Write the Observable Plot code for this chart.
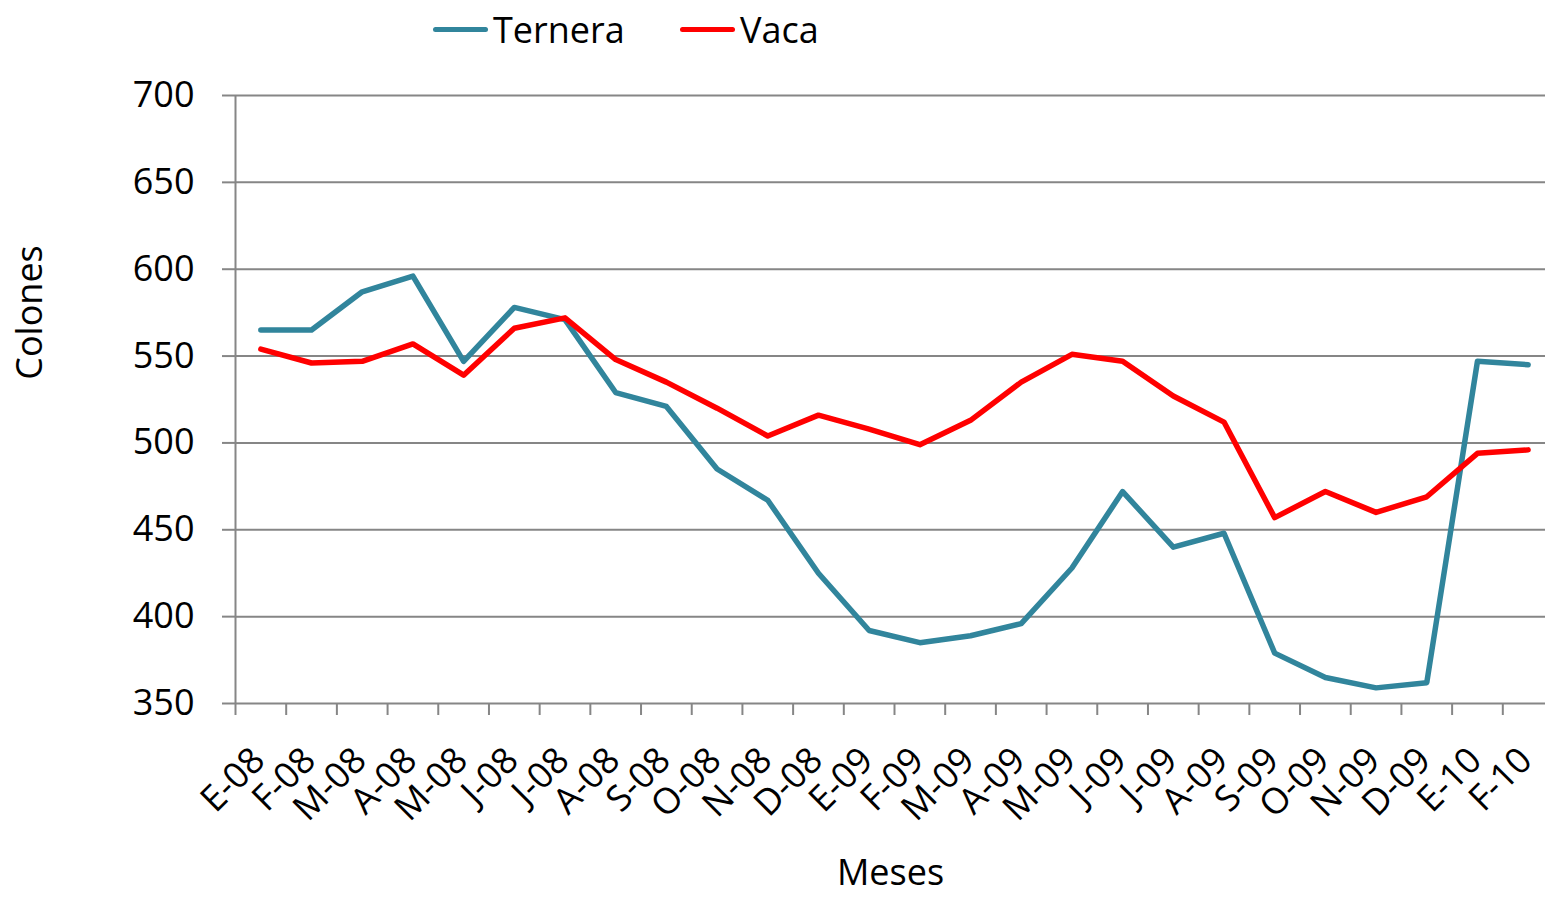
<!DOCTYPE html>
<html><head><meta charset="utf-8">
<script src="https://cdn.jsdelivr.net/npm/d3@7"></script>
<script src="https://cdn.jsdelivr.net/npm/@observablehq/plot@0.6"></script>
<style>
html,body{margin:0;padding:0;background:#fff;overflow:hidden;}
#legend{position:relative;height:60px;font-family:"Open Sans",sans-serif;font-size:36px;color:#000;}
.item{position:absolute;top:0;height:58px;display:flex;align-items:center;}
.sw{width:55px;height:5px;border-radius:3px;margin-right:5px;}
</style></head><body>
<div id="legend"></div><div id="chart"></div>
<script>
const months = ["E-08","F-08","M-08","A-08","M-08","J-08","J-08","A-08","S-08","O-08","N-08","D-08",
                "E-09","F-09","M-09","A-09","M-09","J-09","J-09","A-09","S-09","O-09","N-09","D-09",
                "E-10","F-10"];
const ternera = [565, 565, 587, 596, 547, 578, 571, 529, 521, 485, 467, 425,
                 392, 385, 389, 396, 428, 472, 440, 448, 379, 365, 359, 362,
                 547, 545];
const vaca = [554, 546, 547, 557, 539, 566, 572, 548, 535, 520, 504, 516,
              508, 499, 513, 535, 551, 547, 527, 512, 457, 472, 460, 469,
              494, 496];
const seriesNames = ["Ternera", "Vaca"];
const seriesColors = ["#31859C", "#FF0000"];
const yTicks = [350, 400, 450, 500, 550, 600, 650, 700];
const xTitle = "Meses";
const yTitle = "Colones";

const rows = months.flatMap((m, i) => [
  {i, serie: "Ternera", v: ternera[i]},
  {i, serie: "Vaca", v: vaca[i]}
]);

// legend
const legend = document.getElementById("legend");
const legendLeft = [433, 680];
seriesNames.forEach((s, k) => {
  const it = document.createElement("div");
  it.className = "item";
  it.style.left = legendLeft[k] + "px";
  const sw = document.createElement("div");
  sw.className = "sw";
  sw.style.background = seriesColors[k];
  const tx = document.createElement("span");
  tx.textContent = s;
  it.appendChild(sw); it.appendChild(tx);
  legend.appendChild(it);
});

const grid = "#868686";
const chart = Plot.plot({
  width: 1545, height: 837,
  marginLeft: 235, marginRight: 0, marginTop: 35, marginBottom: 194,
  style: {fontFamily: '"Open Sans", sans-serif', fontSize: "36px", color: "#000", background: "#fff", overflow: "visible"},
  x: {domain: [0, months.length], range: [235, 1553]},
  y: {domain: [350, 700]},
  color: {domain: seriesNames, range: seriesColors},
  marks: [
    Plot.ruleY(yTicks, {stroke: grid, strokeWidth: 2}),
    Plot.axisY(yTicks, {tickSize: 13, tickPadding: 28, stroke: grid, strokeWidth: 2, fontSize: 36, label: null}),
    Plot.ruleX([0], {stroke: grid, strokeWidth: 2}),
    Plot.axisX(d3.range(months.length + 1), {tickSize: 12, stroke: grid, strokeWidth: 2, tickFormat: () => "", label: null}),
    Plot.axisX(d3.range(months.length).map(i => i + 0.5), {
      tickSize: 0, tickPadding: 0, tickRotate: -45, fontSize: 36,
      tickFormat: d => months[Math.floor(d)],
      textAnchor: "end", lineAnchor: "bottom", dx: 6, dy: 59, label: null
    }),
    Plot.line(rows, {x: d => d.i + 0.5, y: "v", stroke: "serie", strokeWidth: 5.5,
      strokeLinecap: "round", strokeLinejoin: "round"}),
    Plot.text([yTitle], {frameAnchor: "left", textAnchor: "middle", rotate: -90, dx: -205, dy: -87, fontSize: 36, fill: "#000"}),
    Plot.text([xTitle], {frameAnchor: "bottom", lineAnchor: "bottom", dy: 181, fontSize: 36, fill: "#000"})
  ]
});
document.getElementById("chart").appendChild(chart);
</script>
</body></html>
